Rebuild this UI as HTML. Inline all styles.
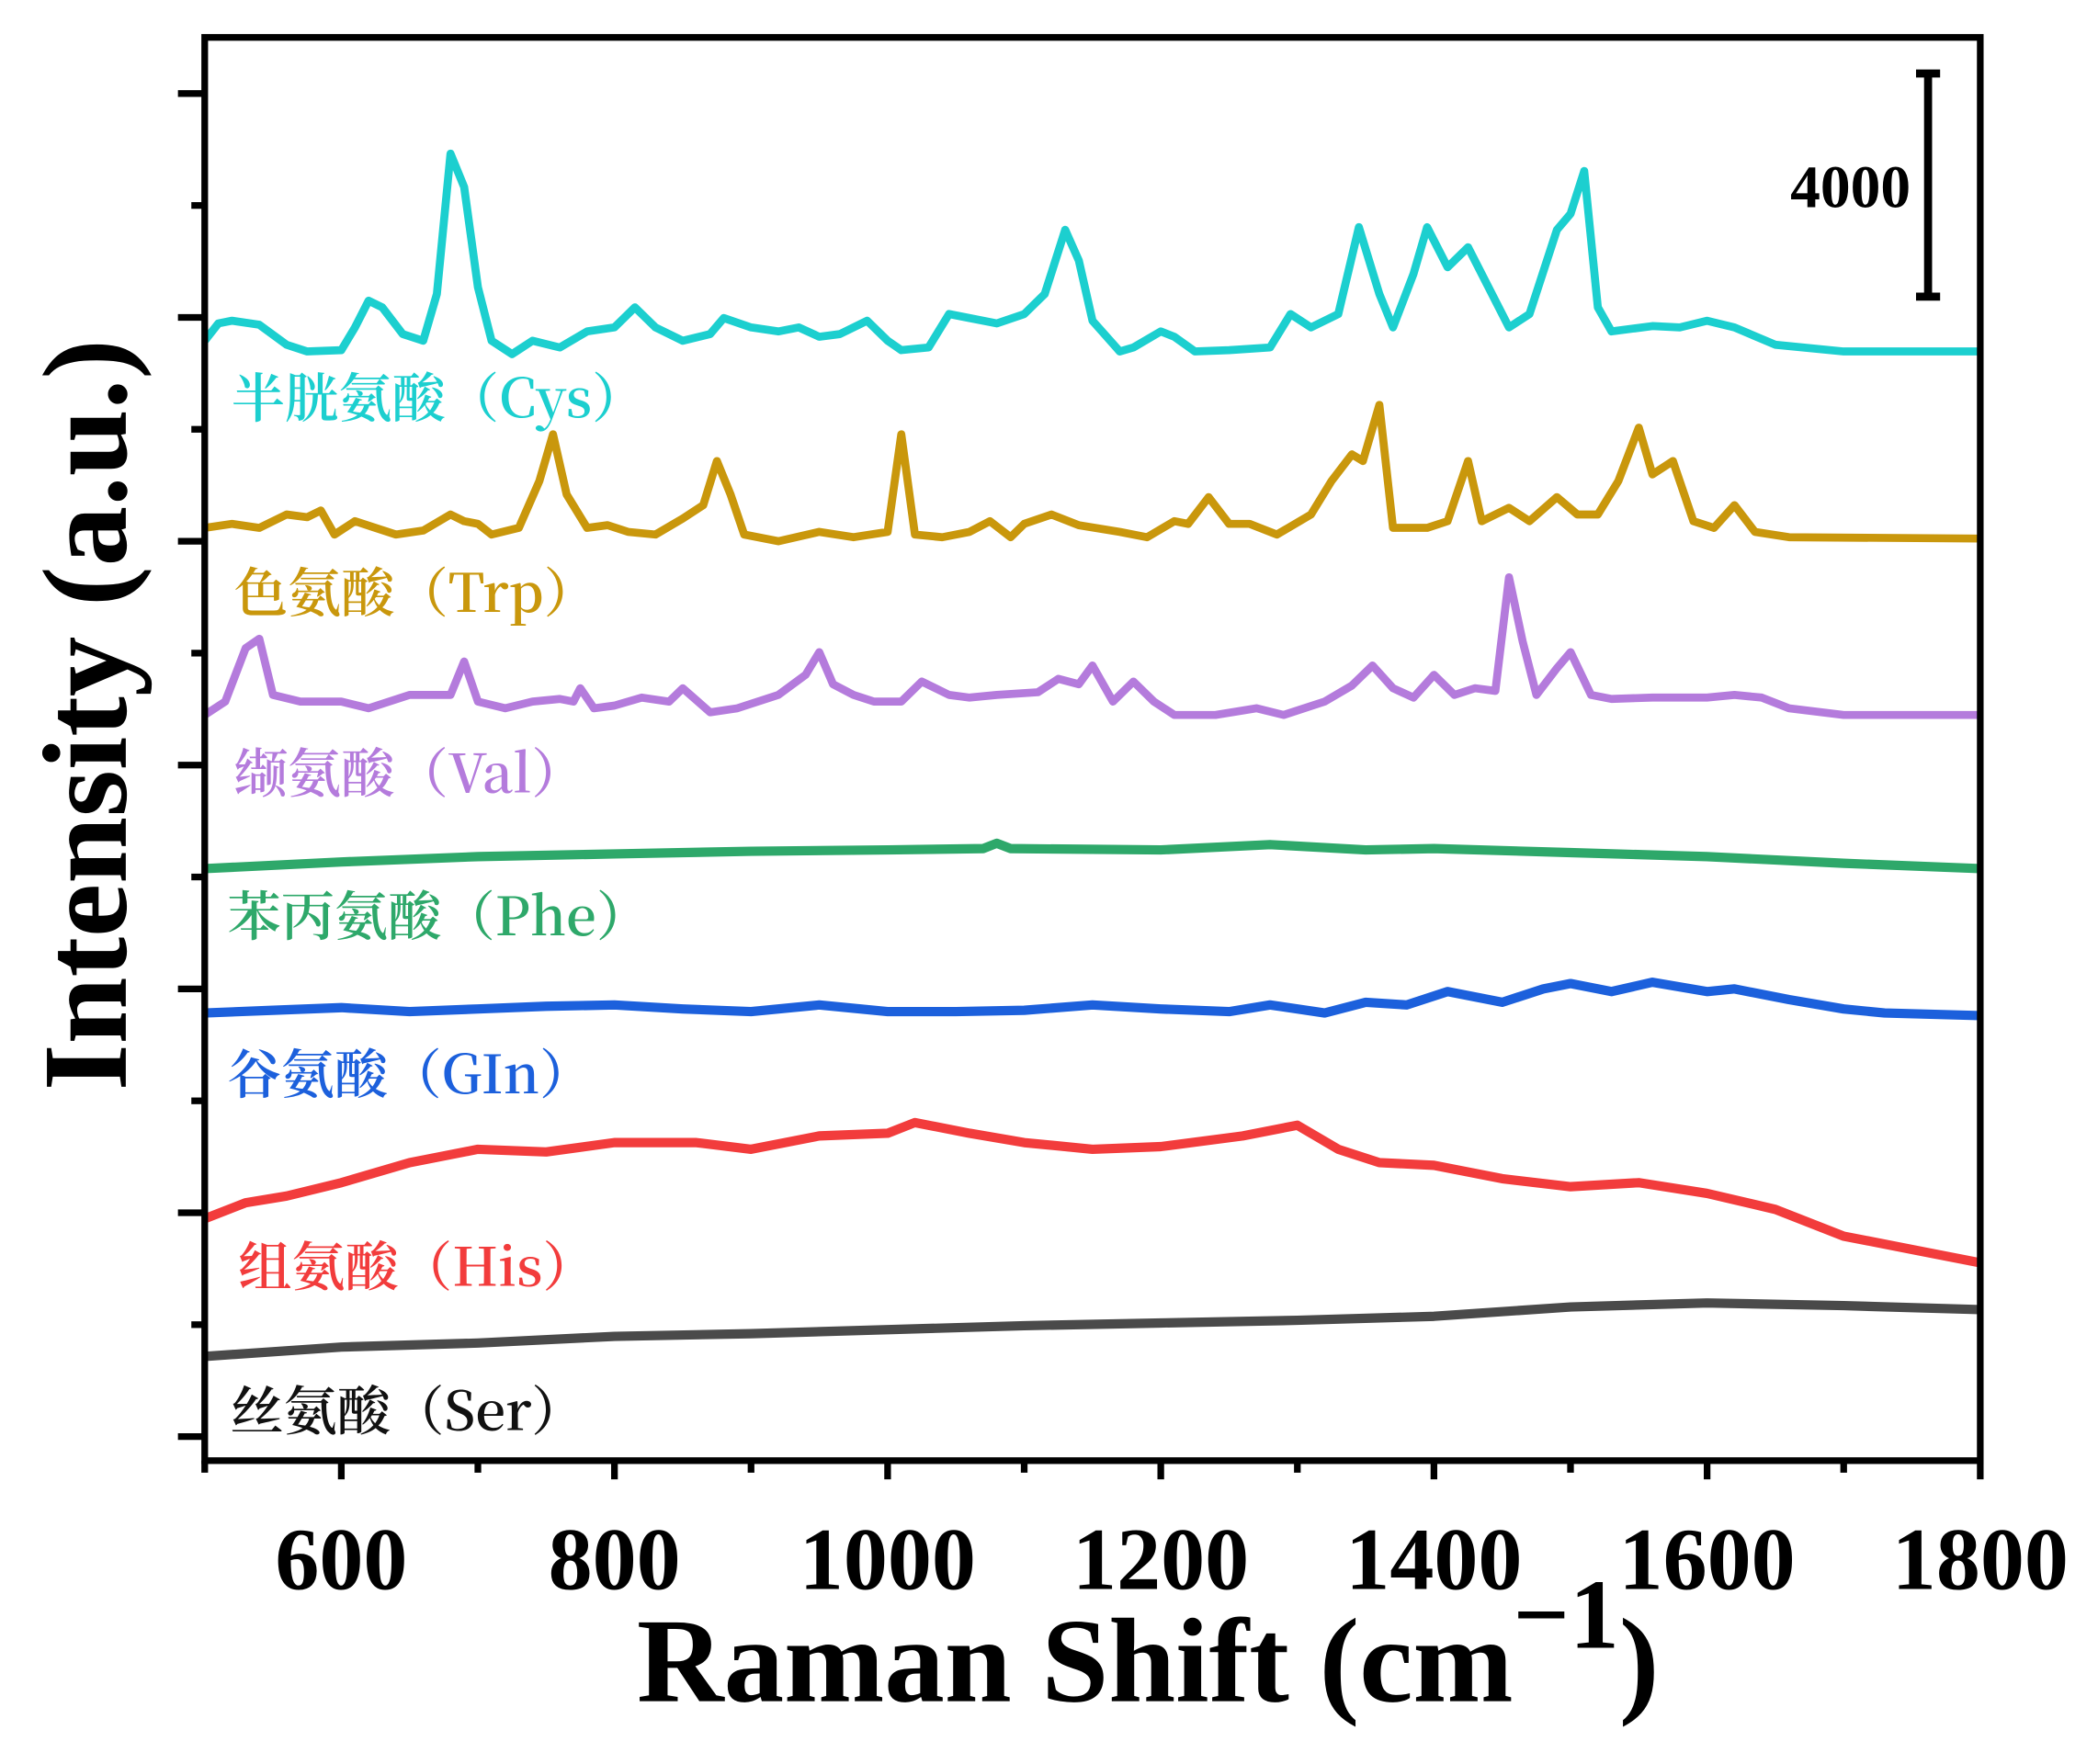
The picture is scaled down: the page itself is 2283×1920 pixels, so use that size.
<!DOCTYPE html>
<html><head><meta charset="utf-8"><style>
html,body{margin:0;padding:0;background:#fff;}
svg{display:block;}
</style></head><body>
<svg id="chart" width="2283" height="1920" viewBox="0 0 1568 1320" preserveAspectRatio="none" xmlns="http://www.w3.org/2000/svg">
<rect x="0" y="0" width="1568" height="1320" fill="#fff"/>
<g id="series"></g>
<g id="axes"></g>
<g id="labels"></g>
<rect x="153" y="28" width="1327" height="1065" fill="none" stroke="#000" stroke-width="5"/>
<g>
<line x1="1441" y1="55" x2="1441" y2="222" stroke="#000" stroke-width="6"/>
<line x1="1432" y1="55" x2="1450" y2="55" stroke="#000" stroke-width="6"/>
<line x1="1432" y1="222" x2="1450" y2="222" stroke="#000" stroke-width="6"/>
<text x="1428" y="155" text-anchor="end" font-family="Liberation Serif, serif" font-weight="bold" font-size="45">4000</text>
</g>
<text x="858" y="1273" text-anchor="middle" font-family="Liberation Serif, serif" font-weight="bold" font-size="90">Raman Shift (cm<tspan font-size="74" dy="-40">−1</tspan><tspan dy="40">)</tspan></text>
<text transform="translate(94,535) rotate(-90)" text-anchor="middle" font-family="Liberation Serif, serif" font-weight="bold" font-size="90">Intensity (a.u.)</text>
</svg>
<script>
const xTicks = [600, 800, 1000, 1200, 1400, 1600, 1800];
const xMinorTicks = [500, 700, 900, 1100, 1300, 1500, 1700];
const seriesNames = ["Cys", "Trp", "Val", "Phe", "Gln", "His", "Ser"];
const seriesLabels = ["半胱氨酸（Cys）", "色氨酸（Trp）", "缬氨酸（Val）", "苯丙氨酸（Phe）", "谷氨酸（GIn）", "组氨酸（His）", "丝氨酸（Ser）"];
const seriesOffsets = [19920, 16560, 13392, 10632, 7992, 3552, 1872];

const cysX = [500,510,520,540,560,575,600,610,620,630,645,660,670,680,690,700,710,725,740,760,780,800,815,830,850,870,880,900,920,935,950,965,985,1000,1010,1030,1045,1060,1080,1100,1115,1130,1140,1150,1170,1180,1200,1210,1225,1250,1280,1295,1310,1330,1345,1360,1370,1385,1395,1410,1425,1440,1455,1470,1490,1500,1510,1520,1530,1560,1580,1600,1620,1650,1700,1800];
const cysY = [192,504,552,480,120,0,24,432,912,792,312,192,1032,3552,2952,1152,192,-48,192,72,360,432,792,432,192,312,600,432,360,432,264,312,552,192,24,72,672,600,504,672,1032,2184,1632,552,0,72,360,264,0,24,72,672,432,672,2232,1032,432,1392,2232,1512,1872,1152,432,672,2184,2472,3240,792,360,456,432,552,432,120,0,0];

const trpX = [500,520,540,560,575,585,595,610,625,640,660,680,690,700,710,730,745,755,765,780,795,810,830,850,865,875,885,895,920,950,975,1000,1010,1020,1040,1060,1075,1090,1100,1120,1140,1170,1190,1210,1220,1235,1250,1265,1285,1310,1325,1340,1348,1360,1370,1395,1410,1425,1435,1455,1470,1490,1505,1520,1535,1550,1560,1575,1590,1605,1620,1635,1660,1800];
const trpY = [192,264,192,432,384,504,72,312,192,72,144,432,312,264,72,192,1032,1872,792,192,240,120,72,360,600,1392,792,72,-48,120,24,120,1872,72,24,120,312,24,264,432,240,120,24,312,264,744,264,264,72,432,1032,1512,1392,2400,192,192,312,1392,312,552,312,744,432,432,1032,1992,1152,1392,312,192,600,120,24,0];

const valX = [500,515,530,540,550,570,600,620,650,680,690,700,720,740,760,770,775,785,800,820,840,850,870,890,920,940,950,960,975,990,1010,1025,1045,1060,1080,1110,1125,1140,1150,1165,1180,1195,1210,1240,1270,1290,1320,1340,1355,1370,1385,1400,1415,1430,1445,1455,1465,1475,1490,1500,1515,1530,1560,1600,1620,1640,1660,1700,1800];
const valY = [0,240,1200,1368,360,240,240,120,360,360,960,240,120,240,288,240,480,120,168,312,240,480,48,120,360,720,1128,552,360,240,240,600,360,312,360,408,648,552,888,240,600,240,0,0,120,0,240,528,888,480,312,720,360,480,432,2472,1320,360,840,1128,360,288,312,312,360,312,120,0,0];

const pheX = [500,600,700,800,900,1000,1070,1080,1090,1200,1280,1350,1400,1500,1600,1700,1800];
const pheY = [0,120,216,264,312,336,360,456,360,336,432,336,360,288,216,96,0];

const glnX = [500,550,600,650,700,750,800,850,900,950,1000,1050,1100,1150,1200,1250,1280,1320,1350,1380,1410,1450,1480,1500,1530,1560,1600,1620,1660,1700,1730,1800];
const glnY = [48,96,144,72,120,168,192,120,72,192,72,72,96,192,120,72,192,48,240,192,432,240,480,576,432,600,432,480,288,120,48,0];

const hisX = [500,530,560,600,650,700,750,800,860,900,950,1000,1020,1060,1100,1150,1200,1260,1300,1330,1360,1400,1450,1500,1550,1600,1650,1700,1750,1800];
const hisY = [792,1080,1200,1440,1800,2040,1992,2160,2160,2040,2280,2328,2520,2328,2160,2040,2088,2280,2472,2040,1800,1752,1512,1368,1440,1248,960,480,240,0];

const serX = [500,600,700,800,900,1000,1100,1200,1300,1400,1500,1600,1700,1800];
const serY = [0,168,240,360,408,480,552,600,648,720,888,960,912,840];

const allX = [cysX, trpX, valX, pheX, glnX, hisX, serX];
const allY = [cysY, trpY, valY, pheY, glnY, hisY, serY];
const colors = ["#1ccfcf", "#c9970c", "#b47bdc", "#2ea86a", "#1c60dc", "#f23c3c", "#4a4a4a"];
const labelColors = ["#1ccfcf", "#c9970c", "#b47bdc", "#2ea86a", "#1c60dc", "#f23c3c", "#111"];
const labelPos = [[173,312],[175,458],[175,593],[170,700],[170,818],[178,962],[172,1070]];

const NS = "http://www.w3.org/2000/svg";
const X0 = 153, X1 = 1480, Y0 = 1093, Y1 = 28;
const xMin = 500, xMax = 1800, yMin = 0, yMax = 25560;
function xs(v){ return X0 + (v - xMin) / (xMax - xMin) * (X1 - X0); }
function ys(v){ return Y0 - (v - yMin) / (yMax - yMin) * (Y0 - Y1); }

const sg = document.getElementById("series");
for (let i = 0; i < allX.length; i++) {
  const xa = allX[i], ya = allY[i];
  let d = "";
  for (let j = 0; j < xa.length; j++) {
    d += (j ? "L" : "M") + xs(xa[j]).toFixed(1) + "," + ys(seriesOffsets[i] + ya[j]).toFixed(1);
  }
  const p = document.createElementNS(NS, "path");
  p.setAttribute("d", d);
  p.setAttribute("fill", "none");
  p.setAttribute("stroke", colors[i]);
  p.setAttribute("stroke-width", i >= 3 ? "7" : "6");
  p.setAttribute("stroke-linejoin", "round");
  
  
  sg.appendChild(p);
}

const lg = document.getElementById("labels");
for (let i = 0; i < seriesLabels.length; i++) {
  const t = document.createElementNS(NS, "text");
  t.setAttribute("x", labelPos[i][0]);
  t.setAttribute("y", labelPos[i][1]);
  t.setAttribute("fill", labelColors[i]);
  t.setAttribute("font-size", "40");
  t.setAttribute("font-family", "Noto Serif CJK SC, Liberation Serif, serif");
  t.setAttribute("font-weight", "600");
  t.textContent = seriesLabels[i];
  
  
  lg.appendChild(t);
}

const ag = document.getElementById("axes");
function line(x1,y1,x2,y2,w){
  const l = document.createElementNS(NS, "line");
  l.setAttribute("x1",x1); l.setAttribute("y1",y1); l.setAttribute("x2",x2); l.setAttribute("y2",y2);
  l.setAttribute("stroke","#000"); l.setAttribute("stroke-width",w);
  ag.appendChild(l);
  return l;
}
for (const v of xTicks) {
  const l = line(xs(v), Y0, xs(v), Y0 + 14, 5);
  
  
  const t = document.createElementNS(NS, "text");
  t.setAttribute("x", xs(v));
  t.setAttribute("y", 1189);
  t.setAttribute("text-anchor", "middle");
  t.setAttribute("font-family", "Liberation Serif, serif");
  t.setAttribute("font-weight", "bold");
  t.setAttribute("font-size", "66");
  t.textContent = v;
  
  
  ag.appendChild(t);
}
for (const v of xMinorTicks) {
  const l = line(xs(v), Y0, xs(v), Y0 + 9, 5);
  
  
}
for (let k = 0; k < 7; k++) {
  const y = 70 + k * 167.5;
  const l = line(X0 - 20, y, X0, y, 5);
  
  
  if (k < 6) {
    const m = line(X0 - 10, y + 83.75, X0, y + 83.75, 5);
    
    
  }
}
</script>
</body></html>
